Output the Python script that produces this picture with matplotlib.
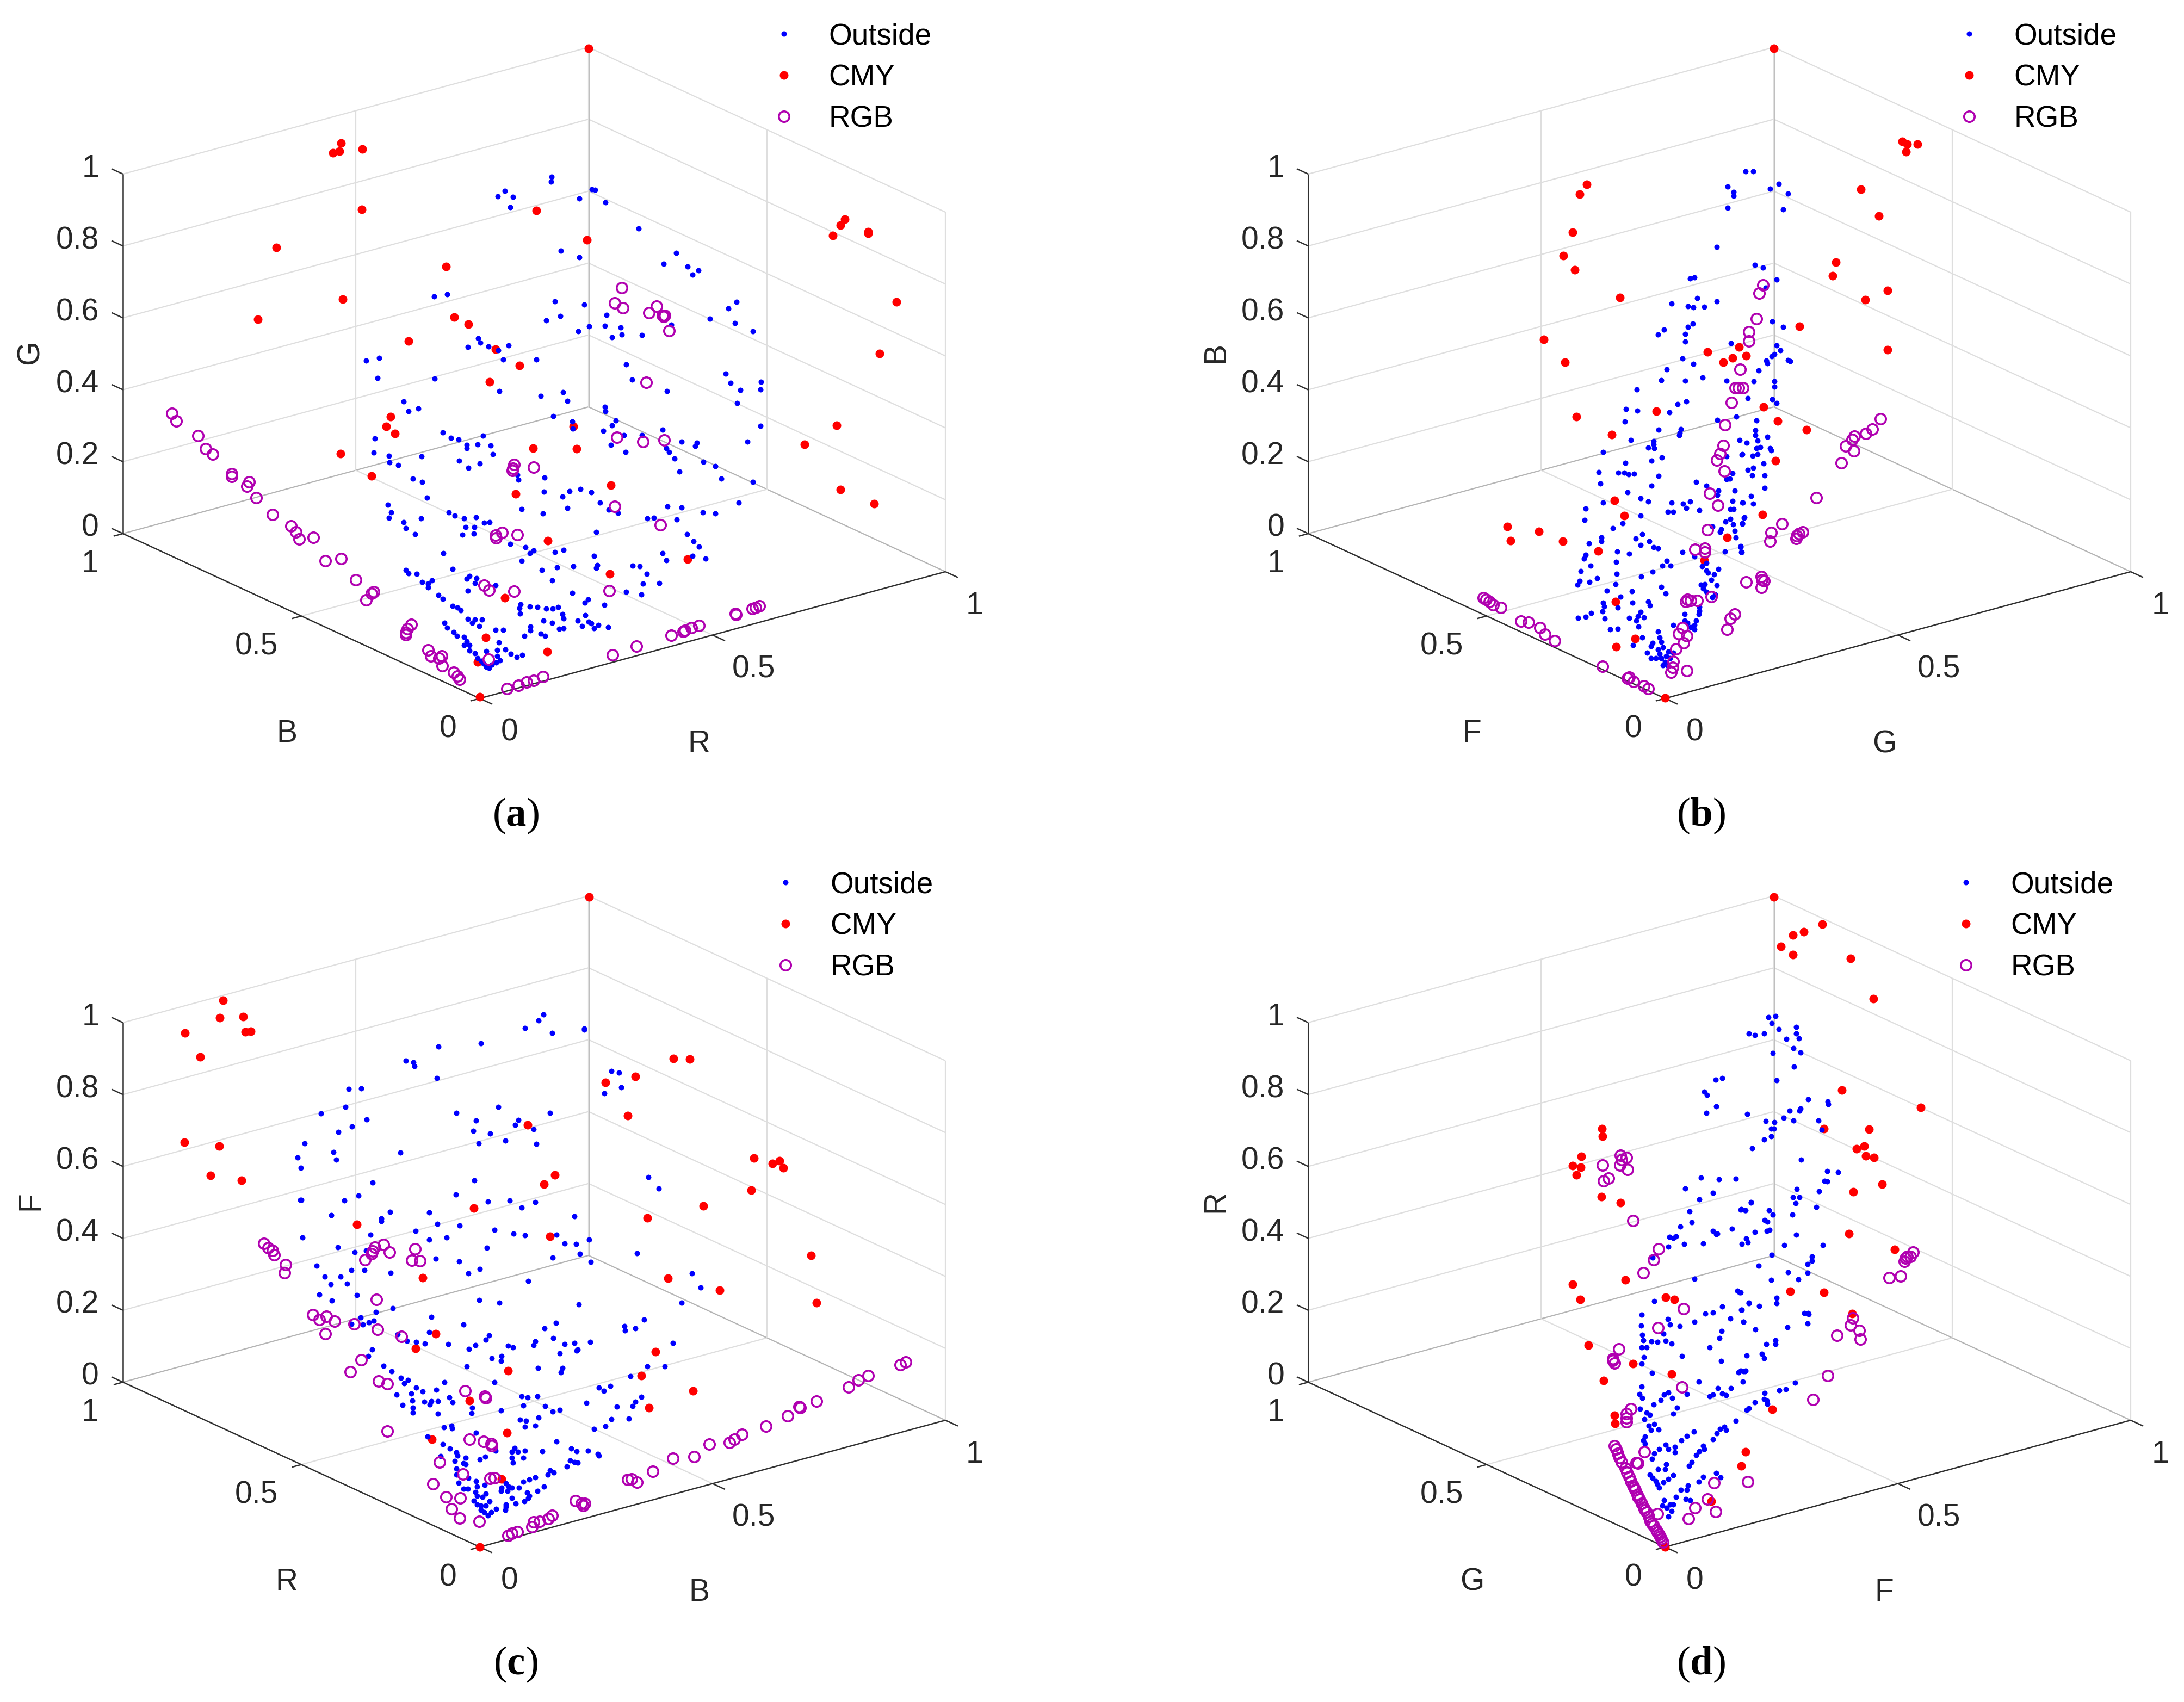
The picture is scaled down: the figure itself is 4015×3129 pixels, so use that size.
"""
Four 3D scatter panels (R/B/G, G/F/B, B/R/F, F/G/R) with Outside, CMY and RGB points.

A single view cannot give a point's depth, so each point is kept as the
(across, up) position it has in the oblique view, measured from the cube's
front corner. The cube, grid and ticks go through project().
"""
import matplotlib
matplotlib.use('Agg')
import matplotlib.pyplot as plt
from matplotlib.lines import Line2D

plt.rcParams['font.family'] = ['Liberation Sans', 'DejaVu Sans']
plt.rcParams['mathtext.fontset'] = 'custom'
plt.rcParams['mathtext.rm'] = 'Liberation Serif'
plt.rcParams['mathtext.bf'] = 'Liberation Serif:bold'

height_ticks = [0, 0.2, 0.4, 0.6, 0.8, 1]
floor_ticks = [0, 0.5, 1]
series_names = ['Outside', 'CMY', 'RGB']

cmy_a = [(-255,1021),(-258,1006),(-270,1003),(-216,1010),(-217,899),(-374,829),(-62,794),(-252,734),(-408,697),
         (-47,701),(-21,688),(-131,657),(29,642),(73,612),(18,582),(104,897),(200,1195),(197,843),(671,881),
         (663,870),(649,851),(714,858),(714,855),(766,729),(735,634),(-164,518),(-172,500),(-156,487),(172,500),
         (98,460),(178,459),(-256,450),(-199,409),(66,376),(241,392),(656,502),(597,467),(663,384),(725,358),
         (125,290),(382,256),(239,229),(46,185),(11,112),(124,86),(-4,67),(0,3)]
outside_a = [(33,923),(46,933),(61,922),(56,903),(-84,739),(-60,743),(-3,662),(1,654),(-22,646),(16,647),(34,640),
             (53,649),(43,623),(104,623),(-83,588),(-188,589),(-209,621),(-185,626),(36,565),(112,556),(-140,546),
             (-113,533),(-131,528),(132,959),(131,950),(206,936),(212,935),(183,919),(231,912),(292,864),(149,823),
             (183,811),(361,819),(338,799),(382,794),(402,787),(391,779),(138,730),(192,724),(148,703),(122,695),
             (233,705),(230,685),(201,684),(181,675),(259,682),(261,669),(243,664),(298,668),(352,687),(423,698),
             (457,717),(472,729),(469,690),(502,675),(269,614),(280,586),(344,565),(452,597),(461,580),(479,567),
             (517,582),(516,568),(473,543),(153,563),(161,547),(230,536),(231,528),(135,519),(170,509),(250,511),
             (243,502),(227,492),(171,496),(336,494),(516,501),(298,484),(265,484),(371,472),(399,470),(396,464),
             (492,472),(241,466),(268,453),(343,460),(348,453),(358,441),(411,435),(433,427),(367,417),(444,404),
             (502,398),(-68,489),(-53,479),(-39,476),(6,483),(-193,478),(-24,466),(-24,460),(-4,467),(20,465),
             (24,449),(-195,452),(-167,446),(-107,445),(-166,434),(-150,429),(-38,437),(0,432),(-21,424),(-123,404),
             (-106,398),(71,402),(69,411),(119,406),(118,380),(165,381),(185,385),(205,379),(152,371),(221,360),
             (-97,369),(-169,356),(-163,342),(-167,332),(-108,331),(-140,324),(-136,313),(-119,302),(-57,342),
             (-46,336),(-29,331),(-7,333),(8,323),(18,324),(-26,315),(-10,315),(-11,303),(-32,301),(77,348),(116,340),
             (161,350),(237,347),(254,341),(345,353),(371,351),(410,342),(433,340),(476,360),(308,331),(320,332),
             (362,329),(214,306),(381,302),(393,289),(403,279),(56,284),(84,278),(99,272),(92,267),(138,269),(154,273),
             (336,267),(343,254),(391,262),(415,257),(77,253),(210,262),(-67,267),(-50,238),(114,236),(142,241),
             (172,243),(216,245),(214,240),(281,244),(294,243),(307,229),(133,217),(300,211),(330,212),(-136,236),
             (-131,230),(-116,229),(-88,217),(-106,214),(-95,211),(-95,204),(-19,225),(-24,220),(-6,221),(-9,212),
             (29,208),(-22,198),(170,194),(269,196),(297,191),(-76,190),(-68,183),(-50,170),(-41,167),(-35,162),
             (199,182),(193,176),(229,172),(75,173),(73,166),(74,156),(92,169),(106,168),(122,165),(134,165),(144,168),
             (152,155),(154,147),(194,153),(117,143),(133,139),(180,143),(200,141),(205,138),(188,133),(218,135),
             (210,129),(236,131),(-22,146),(-9,145),(4,145),(-14,139),(-1,133),(-65,139),(-60,130),(29,126),(43,126),
             (-48,122),(-42,115),(-29,113),(93,132),(93,125),(82,115),(112,119),(120,115),(146,128),(154,129),(-24,105),
             (-29,98),(-19,98),(35,103),(-19,88),(-9,83),(12,87),(32,89),(47,90),(57,82),(78,80),(68,76),(32,78),(37,70),
             (-4,74),(3,69),(22,62),(12,58),(17,56),(30,66),(7,64)]
rgb_a = [(261,755),(248,727),(263,718),(311,709),(325,721),(336,704),(340,704),(338,702),(348,676),(306,581),
         (-566,524),(-558,510),(-518,483),(-504,459),(-491,449),(-456,413),(-456,408),(-424,398),(-428,390),(-411,369),
         (-381,338),(-347,317),(-338,306),(-332,293),(-306,296),(-284,253),(-255,257),(-228,218),(-195,196),(-199,193),
         (-209,181),(-126,136),(-133,128),(-136,121),(-136,117),(-95,89),(-90,78),(-70,78),(-75,74),(-69,60),(-48,48),
         (-41,41),(-37,35),(63,430),(61,423),(60,419),(99,425),(252,480),(300,472),(339,475),(248,353),(332,319),
         (41,305),(29,300),(30,295),(69,301),(8,208),(17,199),(63,197),(238,198),(16,72),(50,18),(71,24),(86,30),(99,33),
         (116,40),(244,80),(288,96),(352,116),(374,123),(377,125),(389,130),(403,134),(470,156),(471,154),(501,165),
         (507,167),(514,170)]

cmy_b = [(200,1195),(-144,945),(-157,927),(-170,857),(-187,814),(-166,788),(-83,737),(-223,660),(-184,618),(78,637),
         (136,646),(124,626),(149,630),(107,618),(436,1024),(445,1019),(443,1005),(464,1019),(360,936),(393,887),
         (314,802),(308,777),(409,750),(368,733),(247,684),(409,641),(181,536),(207,510),(260,494),(203,437),(179,338),
         (-163,518),(-16,528),(-98,485),(-93,364),(-75,336),(-290,316),(-232,307),(-284,290),(-188,289),(-123,271),
         (114,296),(72,254),(-91,178),(-55,110),(-90,95),(0,1)]
outside_b = [(148,969),(162,969),(193,937),(209,946),(226,928),(217,899),(165,797),(180,792),(205,770),(185,755),
             (197,693),(217,683),(205,649),(212,640),(201,633),(196,629),(186,621),(188,616),(226,622),(230,620),
             (172,603),(163,583),(201,583),(201,573),(152,552),(197,550),(205,543),(168,511),(166,493),(166,484),
             (188,481),(170,474),(150,470),(175,462),(168,460),(193,460),(195,456),(170,449),(161,446),(141,448),
             (181,432),(162,424),(152,420),(160,410),(183,410),(183,387),(158,372),(143,360),(162,358),(145,332),
             (142,321),(139,278),(141,269),(115,941),(126,931),(126,924),(115,902),(95,830),(46,772),(54,774),(59,736),
             (95,730),(12,726),(42,721),(52,719),(72,720),(-2,678),(-13,669),(51,689),(42,683),(37,670),(37,656),
             (121,653),(32,625),(52,615),(3,605),(-7,585),(69,590),(37,584),(113,584),(-52,568),(23,541),(39,546),
             (-72,532),(-51,529),(8,526),(-74,509),(96,512),(131,518),(-12,494),(29,495),(27,488),(26,484),(-63,475),
             (137,475),(-21,473),(-21,467),(-31,461),(-20,460),(-114,453),(-6,443),(-25,437),(-73,433),(113,445),
             (142,449),(-122,416),(-86,415),(-75,415),(-67,412),(-57,413),(-12,409),(124,414),(119,404),(113,403),
             (-119,395),(-25,391),(57,398),(76,391),(-69,379),(128,382),(98,382),(96,374),(-45,368),(-31,362),(-114,360),
             (12,360),(33,358),(46,362),(124,363),(142,360),(-146,349),(39,350),(63,346),(5,343),(15,343),(120,348),
             (126,348),(-45,336),(-148,328),(146,333),(120,330),(111,325),(125,320),(142,322),(-78,322),(-96,313),(87,316),
             (103,311),(101,306),(128,308),(130,296),(-42,302),(-117,296),(-117,289),(-140,285),(-54,294),(-29,289),
             (-45,282),(-21,278),(-13,276),(139,280),(140,269),(110,270),(32,269),(54,261),(-88,270),(-66,266),(-146,264),
             (-149,257),(-90,251),(3,253),(10,244),(-5,244),(-137,244),(76,249),(68,243),(-23,233),(-155,234),(-89,229),
             (76,235),(79,231),(98,238),(90,228),(-44,224),(-125,221),(-157,216),(-161,209),(-139,214),(-91,210),(85,218),
             (66,209),(73,210),(70,202),(95,208),(76,196),(-7,205),(-107,198),(-61,197),(1,193),(92,191),(87,186),(-82,187),
             (-114,176),(-60,176),(-31,178),(-28,171),(-112,169),(-87,167),(63,168),(63,161),(62,155),(-115,160),(-45,159),
             (-136,157),(36,155),(-160,148),(-146,150),(-111,147),(-50,151),(-66,148),(-39,149),(-53,143),(36,143),(15,135),
             (57,143),(41,139),(54,135),(47,131),(-49,132),(-101,127),(-87,128),(54,127),(-13,123),(-42,112),(-10,112),
             (-7,104),(-23,102),(-59,98),(-26,96),(-4,94),(-33,84),(-13,90),(-10,82),(6,86),(15,84),(2,78),(-26,74),(-17,74),
             (-7,74),(0,67),(9,74),(-4,61),(6,59)]
rgb_b = [(180,760),(173,745),(168,698),(154,674),(154,657),(138,605),(143,571),(129,571),(135,571),(396,514),(381,495),
         (369,487),(348,482),(344,476),(332,464),(347,455),(324,433),(278,369),(215,321),(195,305),(193,289),(253,306),
         (246,303),(241,294),(242,299),(177,224),(122,544),(110,503),(107,465),(101,450),(95,438),(109,418),(82,377),
         (97,355),(78,310),(55,274),(73,276),(73,269),(149,214),(178,218),(182,216),(177,204),(41,182),(47,180),(59,180),
         (38,178),(85,187),(128,155),(120,147),(114,127),(32,130),(25,119),(40,115),(34,102),(20,91),(15,68),(14,57),
         (11,48),(40,51),(-334,185),(-329,182),(-323,178),(-316,172),(-302,167),(-265,142),(-251,140),(-230,130),
         (-221,118),(-203,106),(-115,59),(-69,37),(-66,39),(-58,31),(-39,23),(-31,18)]

cmy_c = [(201,1195),(-472,1005),(-478,973),(-435,975),(-431,947),(-421,948),(-542,945),(-514,901),(-543,744),(-479,737),
         (-495,683),(-438,674),(88,776),(138,684),(118,667),(231,854),(286,865),(272,793),(-11,623),(-226,593),(308,605),
         (129,571),(356,898),(386,897),(504,715),(538,705),(551,710),(558,697),(499,656),(411,627),(609,536),(346,494),
         (441,472),(619,449),(-105,495),(-81,392),(-118,365),(323,359),(52,324),(297,315),(392,287),(-19,269),(311,256),
         (50,210),(-88,198),(40,125),(0,0)]
outside_c = [(242,875),(256,872),(260,845),(229,834),(192,953),(192,951),(133,945),(310,680),(329,659),(129,798),(174,608),
             (141,574),(201,565),(117,979),(108,968),(83,954),(2,926),(-76,920),(-136,894),(-122,891),(-120,884),(-79,862),
             (-241,842),(-218,843),(-247,809),(-292,797),(-208,786),(-235,773),(-260,763),(-43,798),(34,809),(-7,784),(71,785),
             (65,776),(-12,765),(19,760),(99,768),(47,747),(-2,742),(104,741),(-322,742),(-269,726),(-146,725),(-335,716),
             (-264,712),(-329,697),(-197,670),(-10,674),(-44,648),(-223,646),(-330,638),(-328,638),(-249,637),(15,635),(55,637),
             (102,634),(77,624),(-273,610),(-165,616),(-93,615),(-181,604),(-181,599),(-78,594),(-37,591),(27,583),(-118,581),
             (62,576),(83,573),(-201,574),(-326,569),(-61,569),(-93,565),(-261,551),(-230,542),(-209,545),(13,550),(156,558),
             (177,557),(184,539),(134,532),(289,540),(204,524),(-81,530),(-38,525),(-300,517),(-236,509),(-212,509),(0,511),
             (-21,503),(-164,504),(390,503),(-285,497),(-256,497),(-274,483),(-244,484),(89,489),(406,477),(-295,464),(-226,463),
             (-272,453),(-1,454),(36,449),(182,446),(371,449),(-160,439),(-191,432),(-89,423),(302,418),(-219,422),(-195,416),
             (-204,413),(-215,409),(-236,410),(-30,409),(140,412),(119,402),(266,406),(267,398),(286,402),(-151,391),(-93,395),
             (17,389),(11,381),(135,384),(-134,379),(-117,377),(-101,374),(-58,373),(-8,371),(-20,364),(52,370),(61,367),(102,378),
             (99,371),(156,373),(174,375),(203,377),(180,363),(178,361),(147,356),(355,375),(-198,363),(-205,351),(22,347),(40,351),
             (39,342),(-177,333),(-162,323),(-24,332),(107,329),(152,329),(149,321),(308,332),(340,332),(277,314),(-145,311),
             (-132,307),(-139,301),(-65,303),(27,303),(-117,293),(-105,286),(-80,289),(219,293),(228,287),(240,296),(-153,280),
             (-126,282),(-56,275),(77,277),(88,275),(106,277),(297,276),(286,267),(281,259),(-124,269),(-102,267),(-92,262),
             (-89,268),(-77,268),(-50,266),(-142,261),(196,265),(252,258),(80,260),(120,259),(134,249),(147,252),(-123,256),
             (-123,247),(-14,256),(-15,246),(-77,245),(39,251),(108,238),(74,234),(85,232),(242,235),(274,236),(102,223),(83,221),
             (231,222),(210,217),(-66,220),(-52,223),(-51,218),(-7,210),(-96,203),(-68,189),(141,194),(-55,181),(168,181),(178,176),
             (199,177),(217,171),(219,168),(115,176),(83,177),(64,182),(59,175),(70,175),(29,177),(-43,174),(-41,168),(-72,167),
             (-26,164),(10,166),(0,161),(59,164),(80,164),(61,155),(-46,158),(-30,154),(-26,152),(166,159),(180,155),(160,148),
             (174,156),(-43,144),(-43,133),(129,141),(136,137),(125,133),(-21,127),(-7,121),(102,128),(91,124),(80,120),(-39,118),
             (9,114),(48,117),(40,109),(53,111),(59,109),(72,109),(-30,107),(-22,107),(-5,111),(39,103),(51,103),(118,111),(106,103),
             (87,100),(91,94),(89,90),(-8,101),(11,98),(-5,94),(5,92),(59,90),(82,84),(18,84),(-11,85),(66,80),(48,78),(47,68),(-5,78),
             (2,76),(11,76),(30,70),(2,68),(8,64),(21,64),(15,58),(48,74)]
rgb_c = [(-397,558),(-389,550),(-381,545),(-378,537),(-357,519),(-359,504),(-177,556),(-193,551),(-197,544),(-199,539),
         (-166,542),(-211,528),(-119,548),(-125,527),(-110,526),(-190,455),(-307,427),(-295,418),(-282,424),(-267,415),
         (-231,410),(-284,392),(-188,400),(-144,387),(-218,344),(-238,322),(-186,305),(-170,300),(-27,287),(9,277),(11,274),
         (-170,213),(-19,198),(7,194),(21,190),(22,186),(-74,156),(-31,134),(19,126),(27,127),(-86,116),(-62,92),(-36,90),
         (-52,70),(-37,53),(-1,47),(52,21),(59,25),(69,28),(96,37),(99,46),(110,47),(126,52),(133,58),(176,85),(187,80),(190,76),
         (193,80),(272,124),(279,125),(289,119),(318,139),(355,163),(394,166),(422,189),(459,192),(468,198),(482,207),(526,222),
         (566,241),(589,256),(587,258),(619,268),(678,294),(696,307),(714,315),(773,335),(783,340)]

cmy_d = [(200,1195),(-116,769),(-115,755),(-154,718),(-170,701),(-155,698),(-163,684),(-117,644),(-82,633),(289,1145),
         (255,1131),(235,1125),(213,1104),(235,1089),(341,1082),(383,1008),(325,840),(470,808),(292,769),(375,768),(366,737),
         (352,732),(369,719),(384,716),(399,667),(346,653),(338,576),(422,547),(230,470),(292,468),(344,429),(197,253),
         (-170,483),(-156,455),(-73,491),(1,459),(17,455),(-141,371),(-59,337),(12,318),(-113,306),(-93,242),(-92,227),
         (148,175),(140,149),(85,84),(0,0)]
outside_d = [(203,976),(190,974),(196,963),(209,952),(241,956),(241,944),(246,935),(223,934),(182,944),(165,941),(154,944),
             (236,917),(249,909),(198,908),(237,883),(205,858),(263,823),(299,819),(300,814),(249,806),(247,802),(229,802),
             (151,796),(185,783),(201,781),(218,789),(236,784),(282,784),(288,767),(195,769),(200,769),(195,755),(182,749),
             (160,733),(250,712),(298,691),(318,689),(293,673),(298,672),(242,658),(283,654),(235,643),(247,643),(240,632),
             (278,625),(158,633),(147,619),(139,620),(191,619),(198,611),(234,611),(183,601),(188,598),(192,583),(187,581),
             (165,579),(241,574),(149,567),(152,560),(141,557),(219,555),(290,555),(270,534),(270,526),(262,520),(196,537),
             (172,517),(226,505),(262,504),(245,492),(195,491),(139,468),(205,458),(205,448),(154,448),(173,443),(141,436),
             (256,430),(263,430),(264,428),(262,411),(144,414),(225,404),(166,400),(203,380),(203,373),(186,373),(178,355),
             (182,347),(150,352),(144,323),(147,323),(143,304),(239,302),(222,290),(210,288),(183,283),(182,272),(187,269),
             (188,263),(165,266),(154,255),(150,252),(93,859),(105,862),(72,837),(77,831),(94,810),(76,798),(66,679),(99,676),
             (130,677),(37,659),(88,651),(63,639),(158,634),(140,621),(148,619),(45,617),(28,589),(49,597),(88,581),(96,576),
             (123,585),(15,568),(8,570),(20,571),(94,575),(35,557),(70,558),(6,552),(-23,532),(54,493),(133,471),(137,468),
             (-20,452),(154,449),(105,442),(140,436),(88,431),(74,429),(-43,427),(120,420),(54,414),(144,414),(5,419),(9,409),
             (27,406),(-44,407),(104,397),(-42,390),(-3,392),(100,384),(-40,380),(-25,378),(-14,377),(1,379),(12,374),(82,367),
             (-43,367),(-34,367),(31,351),(-39,349),(103,342),(-43,337),(-24,320),(139,324),(148,324),(135,321),(62,304),(97,292),
             (121,292),(88,280),(82,277),(105,282),(112,279),(40,281),(-43,295),(-47,281),(-42,274),(6,284),(-2,280),(13,274),
             (-8,270),(-21,262),(-46,254),(22,256),(-34,247),(-28,243),(15,245),(-38,235),(-20,226),(-30,223),(-26,215),(-12,216),
             (130,232),(109,221),(101,217),(112,215),(53,212),(40,204),(95,209),(88,198),(30,196),(-37,203),(-40,196),(-37,190),
             (1,188),(-11,180),(-20,172),(-24,162),(6,180),(18,184),(18,174),(70,186),(72,180),(63,176),(57,169),(49,156),(44,149),
             (2,152),(0,143),(-13,143),(-28,133),(-23,127),(-17,121),(-14,115),(15,132),(6,125),(-3,119),(-11,109),(94,136),
             (102,128),(70,129),(62,120),(42,113),(40,105),(29,105),(20,92),(38,88),(46,86),(-2,86),(-5,76),(15,78),(3,72),(12,66),
             (6,56),(9,78)]
rgb_d = [(-82,720),(-71,716),(-80,712),(-83,702),(-115,702),(-69,694),(-104,678),(-113,673),(-59,600),(456,542),(451,534),
         (445,534),(442,531),(440,525),(433,498),(412,495),(345,421),(341,408),(357,398),(359,382),(316,389),(299,315),(272,271),
         (-93,186),(-90,180),(-87,172),(-84,164),(-80,156),(-73,145),(-70,137),(-66,129),(-63,121),(-59,113),(-57,109),(-55,105),
         (-51,96),(-50,92),(-47,88),(-43,80),(-39,72),(-37,68),(-34,64),(-30,56),(-27,47),(-24,43),(-21,39),(-16,31),(-14,27),
         (-11,23),(-9,19),(-7,15),(-4,9),(-12,548),(-21,528),(-40,504),(34,438),(-13,403),(-85,364),(-96,346),(-93,338),(-96,343),
         (31,294),(-63,254),(-71,245),(-71,237),(-71,230),(-38,175),(-50,154),(-53,155),(90,118),(152,120),(78,88),(55,72),(93,65),
         (43,52),(-14,61)]


def project(right, left, height):
    """Oblique view of the unit cube: right/left floor axes and the height axis."""
    return 856 * right - 656 * left, 233 * right + 303 * left + 661 * height


def segment(ax, start, end, color, lw):
    x0, y0 = project(*start)
    x1, y1 = project(*end)
    ax.plot([x0, x1], [y0, y1], color=color, lw=lw, solid_capstyle='butt', zorder=1)


def draw_cube(ax):
    grid, edge, axis_col = '#dedede', '#b4b4b4', '#303030'

    # back walls
    for z in height_ticks:
        segment(ax, (0, 1, z), (1, 1, z), edge if z == 0 else grid, 1.6)
        segment(ax, (1, 0, z), (1, 1, z), edge if z == 0 else grid, 1.6)
    for t in floor_ticks:
        segment(ax, (t, 1, 0), (t, 1, 1), edge if t == 1 else grid, 2.0 if t == 1 else 1.6)
        segment(ax, (1, t, 0), (1, t, 1), grid, 1.6)

    # floor grid
    segment(ax, (0.5, 0, 0), (0.5, 1, 0), grid, 1.6)
    segment(ax, (0, 0.5, 0), (1, 0.5, 0), grid, 1.6)

    # front axes and their ticks
    segment(ax, (0, 0, 0), (1, 0, 0), axis_col, 1.8)
    segment(ax, (0, 0, 0), (0, 1, 0), axis_col, 1.8)
    segment(ax, (0, 1, 0), (0, 1, 1), axis_col, 1.8)
    for z in height_ticks:
        segment(ax, (0, 1, z), (0, 1.032, z), axis_col, 1.8)
    for t in floor_ticks:
        segment(ax, (t, 0, 0), (t, -0.035, 0), axis_col, 1.8)
        segment(ax, (0, t, 0), (-0.02, t, 0), axis_col, 1.8)


def draw_labels(ax, right_name, left_name, up_name):
    kw = dict(fontsize=41, color='#262626', ha='center', va='center')
    for z in height_ticks:
        x, y = project(0, 1, z)
        ax.text(x - 44, y + 10, f'{z:g}', fontsize=41, color='#262626', ha='right', va='center')

    # label offsets differ because '0.5' is wider than '0' and '1'
    for t, dx_right, dx_left in zip(floor_ticks, [55, 75, 54], [-58, -83, -60]):
        x, y = project(t, 0, 0)
        ax.text(x + dx_right, y - 63, f'{t:g}', **kw)
        x, y = project(0, t, 0)
        ax.text(x + dx_left, y - 56, f'{t:g}', **kw)
    ax.text(403, -84, right_name, **kw)
    ax.text(-355, -65, left_name, **kw)
    ax.text(-826, 636, up_name, rotation=90, **kw)


def draw_panel(origin, letter, names, outside, cmy, rgb, legend_shift):
    ax = fig.add_axes([(origin[0] - 870) / 4015, 1 - (origin[1] + 260) / 3129, 1820 / 4015, 1530 / 3129])
    ax.set_xlim(-870, 950)
    ax.set_ylim(-260, 1270)
    ax.axis('off')

    draw_cube(ax)
    draw_labels(ax, *names)

    red_x, red_y = zip(*cmy)
    blue_x, blue_y = zip(*outside)
    ring_x, ring_y = zip(*rgb)
    ax.plot(red_x, red_y, 'o', color='#ff0000', ms=11.5, mew=0, clip_on=False, zorder=3)
    ax.plot(blue_x, blue_y, 'o', color='#0000ff', ms=7.2, mew=0, clip_on=False, zorder=4)
    ax.plot(ring_x, ring_y, 'o', mfc='none', mec='#b000b0', ms=14, mew=2.6, clip_on=False, zorder=5)

    handles = [
        Line2D([], [], ls='none', marker='o', color='#0000ff', ms=7.2, mew=0),
        Line2D([], [], ls='none', marker='o', color='#ff0000', ms=11.5, mew=0),
        Line2D([], [], ls='none', marker='o', mfc='none', mec='#b000b0', ms=14, mew=2.6),
    ]
    ax.legend(handles, series_names, loc='upper left', bbox_to_anchor=((504 + legend_shift + 870) / 1820, (1243 + 260) / 1530),
              frameon=False, fontsize=39.5, numpoints=1, handlelength=2, handletextpad=0.5, labelspacing=0.44,
              borderpad=0, borderaxespad=0, labelcolor='black')

    ax.text(66, -216, rf'($\mathbf{{{letter}}}$)', fontsize=54, family='Liberation Serif', color='black',
            ha='center', va='center', math_fontfamily='custom')


fig = plt.figure(figsize=(40.15, 31.29), dpi=100, facecolor='white')

draw_panel((882, 1284), 'a', ('R', 'B', 'G'), outside_a, cmy_a, rgb_a, 0)
draw_panel((3061, 1284), 'b', ('G', 'F', 'B'), outside_b, cmy_b, rgb_b, 0)
draw_panel((882, 2844), 'c', ('B', 'R', 'F'), outside_c, cmy_c, rgb_c, 3)
draw_panel((3061, 2844), 'd', ('F', 'G', 'R'), outside_d, cmy_d, rgb_d, -6)

plt.savefig('out.png', dpi=100, facecolor='white')
plt.close()
